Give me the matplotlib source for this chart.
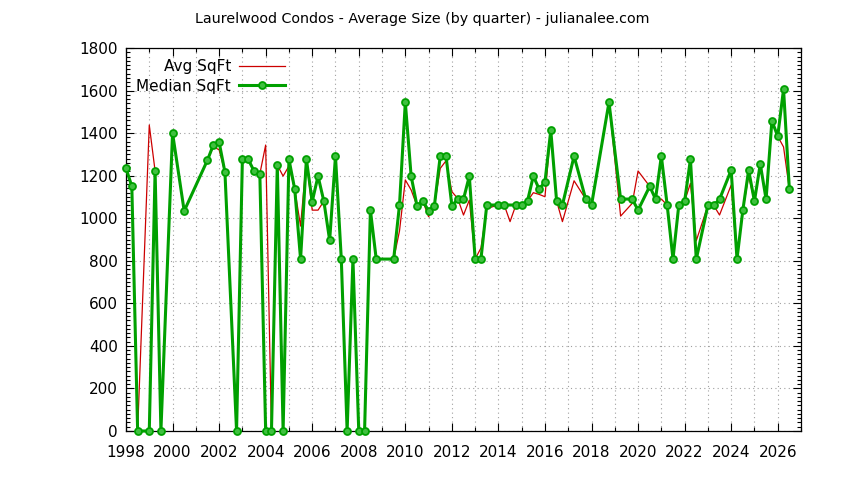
import numpy as np
import matplotlib
matplotlib.use("Agg")
import matplotlib.pyplot as plt
from matplotlib.ticker import MultipleLocator

# quarterly sales data, Laurelwood condos (missing quarters simply left out)
periods = [
    "1998Q1", "1998Q2", "1998Q3", "1999Q1", "1999Q2", "1999Q3", "2000Q1", "2000Q3",
    "2001Q3", "2001Q4", "2002Q1", "2002Q2", "2002Q4", "2003Q1", "2003Q2", "2003Q3",
    "2003Q4", "2004Q1", "2004Q2", "2004Q3", "2004Q4", "2005Q1", "2005Q2", "2005Q3",
    "2005Q4", "2006Q1", "2006Q2", "2006Q3", "2006Q4", "2007Q1", "2007Q2", "2007Q3",
    "2007Q4", "2008Q1", "2008Q2", "2008Q3", "2008Q4", "2009Q3", "2009Q4", "2010Q1",
    "2010Q2", "2010Q3", "2010Q4", "2011Q1", "2011Q2", "2011Q3", "2011Q4", "2012Q1",
    "2012Q2", "2012Q3", "2012Q4", "2013Q1", "2013Q2", "2013Q3", "2014Q1", "2014Q2",
    "2014Q3", "2014Q4", "2015Q1", "2015Q2", "2015Q3", "2015Q4", "2016Q1", "2016Q2",
    "2016Q3", "2016Q4", "2017Q2", "2017Q4", "2018Q1", "2018Q4", "2019Q2", "2019Q4",
    "2020Q1", "2020Q3", "2020Q4", "2021Q1", "2021Q2", "2021Q3", "2021Q4", "2022Q1",
    "2022Q2", "2022Q3", "2023Q1", "2023Q2", "2023Q3", "2024Q1", "2024Q2", "2024Q3",
    "2024Q4", "2025Q1", "2025Q2", "2025Q3", "2025Q4", "2026Q1", "2026Q2", "2026Q3",
]

avg_sqft = [
    1235, 1150, 0, 1438, 1222, 0, 1400, 1034,
    1273, 1335, 1322, 1217, 0, 1277, 1277, 1222,
    1208, 1344, 0, 1250, 1198, 1245, 1136, 963,
    1277, 1038, 1038, 1080, 896, 1292, 808, 0,
    808, 0, 0, 1038, 808, 808, 940, 1180,
    1133, 1059, 1081, 1007, 1059, 1234, 1270, 1125,
    1093, 1015, 1085, 808, 860, 1046, 1062, 1062,
    984, 1062, 1062, 1081, 1120, 1112, 1101, 1413,
    1081, 984, 1176, 1090, 1062, 1545, 1010, 1070,
    1222, 1150, 1090, 1090, 1062, 808, 1062, 1080,
    1164, 894, 1060, 1060, 1015, 1156, 808, 1037,
    1198, 1080, 1255, 1089, 1458, 1385, 1335, 1137,
]

median_sqft = [
    1235, 1150, 0, 0, 1222, 0, 1400, 1034,
    1273, 1344, 1358, 1217, 0, 1277, 1277, 1222,
    1208, 0, 0, 1250, 0, 1277, 1136, 808,
    1277, 1078, 1198, 1080, 896, 1292, 808, 0,
    808, 0, 0, 1038, 808, 808, 1062, 1545,
    1198, 1059, 1081, 1035, 1059, 1292, 1292, 1059,
    1089, 1090, 1198, 808, 808, 1062, 1062, 1062,
    None, 1062, 1062, 1081, 1198, 1137, 1170, 1413,
    1081, 1062, 1292, 1090, 1062, 1545, 1090, 1090,
    1038, 1150, 1090, 1292, 1062, 808, 1062, 1080,
    1277, 807, 1060, 1060, 1089, 1226, 808, 1037,
    1226, 1080, 1255, 1089, 1458, 1385, 1607, 1137,
]

title = "Laurelwood Condos - Average Size (by quarter) - julianalee.com"

# "2005Q3" -> 2005.5
x = np.array([int(p[:4]) + (int(p[5]) - 1) / 4 for p in periods])
avg = np.array(avg_sqft, dtype=float)
med = np.array([np.nan if v is None else v for v in median_sqft], dtype=float)
ok = ~np.isnan(med)

fig = plt.figure(figsize=(8.44, 4.8), dpi=100)
ax = fig.add_axes([126 / 844, 49 / 480, 675 / 844, 383 / 480])

ax.plot(x, avg, color="#cc0000", lw=0.9, label="Avg SqFt", zorder=3)
ax.plot(x[ok], med[ok], color="#00a000", lw=2.2, marker="o", ms=5,
        mfc="#40c040", mec="#00a000", mew=1.3, label="Median SqFt",
        zorder=4, clip_on=False)

ax.set_xlim(1998, 2027)
ax.set_ylim(0, 1800)
ax.xaxis.set_major_locator(MultipleLocator(2))
ax.xaxis.set_minor_locator(MultipleLocator(1))
ax.yaxis.set_major_locator(MultipleLocator(200))
ax.yaxis.set_minor_locator(MultipleLocator(20))

grid_style = dict(ls=(0, (1, 3)), color="#a0a0a0", lw=0.8)
ax.grid(which="major", axis="both", **grid_style)
ax.grid(which="minor", axis="x", **grid_style)
ax.set_axisbelow(True)

ax.tick_params(which="both", direction="in", top=True, right=True, width=0.8)
ax.tick_params(which="major", length=6, labelsize=11)
ax.tick_params(which="minor", length=3)
ax.tick_params(axis="x", pad=10)
ax.tick_params(axis="y", pad=6)
for s in ax.spines.values():
    s.set_linewidth(0.9)

ax.legend(loc="upper right", bbox_to_anchor=(0.236, 0.971), frameon=False,
          markerfirst=False, fontsize=11, handlelength=3.0, handletextpad=0.55,
          labelspacing=0.3, borderpad=0, borderaxespad=0)

fig.text(0.5, 1 - 19 / 480, title, ha="center", va="center", fontsize=10.3)

fig.savefig("out.png", dpi=100)
